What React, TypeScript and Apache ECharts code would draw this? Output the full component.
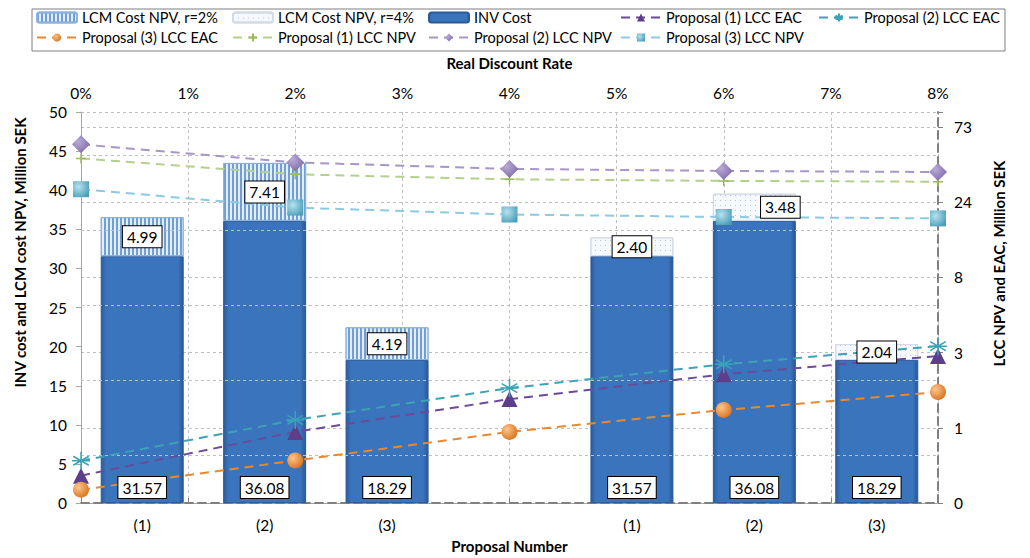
import React, { useEffect, useRef } from "react";
import * as echarts from "echarts";

// ---------- data ----------
const categories = ["(1)", "(2)", "(3)", "", "(1)", "(2)", "(3)"];
const invCost = [31.57, 36.08, 18.29, null, 31.57, 36.08, 18.29];
const lcmCost2 = [4.99, 7.41, 4.19, null, null, null, null];
const lcmCost4 = [null, null, null, null, 2.4, 3.48, 2.04];

const rates = [0, 2, 4, 6, 8];
const p1Eac = [0.448, 0.849, 1.37, 1.97, 2.57];
const p2Eac = [0.557, 1.011, 1.61, 2.28, 2.97];
const p3Eac = [0.365, 0.559, 0.849, 1.17, 1.52];
const p1Npv = [46.1, 36.56, 33.97, 33.2, 32.8];
const p2Npv = [56.6, 43.49, 39.56, 38.4, 37.8];
const p3Npv = [29.4, 22.48, 20.33, 19.6, 19.2];

const rightTickLabels = ["0", "1", "3", "8", "24", "73"];
const rightMinorGrid = [0.6, 1.8, 5.4, 16.2, 48.6];

// secondary axis is logarithmic, base 3, starting at 0.3
const LOG_BASE = 3;
const LOG_ORIGIN = 0.3;
const toLog = (v: number) => Math.log(v / LOG_ORIGIN) / Math.log(LOG_BASE);

const FONT = "Lato";
const TICK_FS = 15.5;
const NAME_FS = 15;
const BAR_W = 83;

const lineSeries = (
  name: string,
  values: number[],
  lineColor: string,
  symbol: string,
  symbolSize: number,
  itemStyle: any
) => ({
  name,
  type: "line",
  xAxisIndex: 1,
  yAxisIndex: 1,
  data: rates.map((r, i) => [r, toLog(values[i])]),
  symbol,
  symbolSize,
  symbolKeepAspect: true,
  lineStyle: { color: lineColor, width: 2, type: [9, 6] },
  itemStyle,
  z: 5,
});

const radial = (c0: string, c1: string) => ({
  type: "radial",
  x: 0.35,
  y: 0.35,
  r: 0.75,
  colorStops: [
    { offset: 0, color: c0 },
    { offset: 1, color: c1 },
  ],
});

export default function App() {
  const ref = useRef<HTMLDivElement>(null);
  useEffect(() => {
    if (!ref.current) return;
    const chart = echarts.init(ref.current, undefined, { renderer: "svg" });
    const labelBox = {
      show: true,
      color: "#000",
      fontFamily: FONT,
      fontSize: 15.5,
      backgroundColor: "#fff",
      borderColor: "#000",
      borderWidth: 1,
      padding: [3, 4, 2, 4],
      formatter: (p: any) => Number(p.value).toFixed(2),
    };
    // transparent twin bars, drawn above the lines, that carry the value boxes
    const labelSeries = (id: string, data: any[], position: string, shifted: number[] = []) => ({
      name: id,
      type: "bar",
      stack: "labels",
      barWidth: BAR_W,
      barGap: "-100%",
      data: data.map((v, i) =>
        shifted.includes(i) ? { value: v, label: { offset: [26, 0] } } : v
      ),
      silent: true,
      itemStyle: { color: "rgba(0,0,0,0)" },
      label: { ...labelBox, position, distance: 5 },
      z: 10,
    });
    const legendBase = {
      orient: "vertical",
      top: 10,
      itemGap: 5,
      itemWidth: 40,
      itemHeight: 10,
      padding: 0,
      textStyle: { fontFamily: FONT, fontSize: 14.5, color: "#000" },
    };
    const option: any = {
      animation: false,
      textStyle: { fontFamily: FONT },
      graphic: [
        {
          type: "rect",
          shape: { x: 32, y: 9, width: 973, height: 42 },
          style: { fill: "none", stroke: "#7f7f7f", lineWidth: 1 },
          silent: true,
        },
      ],
      legend: [
        { ...legendBase, left: 36, data: ["LCM Cost NPV, r=2%", "Proposal (3) LCC EAC"] },
        { ...legendBase, left: 232, data: ["LCM Cost NPV, r=4%", "Proposal (1) LCC NPV"] },
        { ...legendBase, left: 428, data: ["INV Cost", "Proposal (2) LCC NPV"] },
        { ...legendBase, left: 620, data: ["Proposal (1) LCC EAC", "Proposal (3) LCC NPV"] },
        { ...legendBase, left: 818, data: ["Proposal (2) LCC EAC"] },
      ],
      grid: { left: 81, right: 92, top: 112, bottom: 54 },
      xAxis: [
        {
          type: "category",
          data: categories,
          position: "bottom",
          name: "Proposal Number",
          nameLocation: "middle",
          nameGap: 22,
          nameTextStyle: { fontFamily: FONT, fontSize: NAME_FS, fontWeight: "bold", color: "#000" },
          axisLine: { lineStyle: { color: "#a6a6a6", width: 1 } },
          axisTick: { show: false },
          axisLabel: { fontFamily: FONT, fontSize: TICK_FS, color: "#000", margin: 14 },
          splitLine: { show: false },
        },
        {
          type: "value",
          position: "top",
          min: 0,
          max: 8,
          interval: 1,
          name: "Real Discount Rate",
          nameLocation: "middle",
          nameGap: 42,
          nameTextStyle: { fontFamily: FONT, fontSize: NAME_FS, fontWeight: "bold", color: "#000" },
          axisLine: { show: true, lineStyle: { color: "#808080", width: 2, type: [8, 5] } },
          axisTick: { show: true, length: 5, lineStyle: { color: "#808080", width: 1 } },
          axisLabel: { fontFamily: FONT, fontSize: TICK_FS, color: "#000", margin: 11, formatter: "{value}%" },
          splitLine: { show: true, lineStyle: { color: "#bfbfbf", width: 1, type: [3, 3] } },
        },
      ],
      yAxis: [
        {
          type: "value",
          position: "left",
          min: 0,
          max: 50,
          interval: 5,
          name: "INV cost and LCM cost NPV, Million SEK",
          nameLocation: "middle",
          nameRotate: 90,
          nameGap: 54,
          nameTextStyle: {
            fontFamily: FONT,
            fontSize: NAME_FS,
            fontWeight: "bold",
            color: "#000",
            padding: [0, 0, 0, 110],
          },
          axisLine: { show: true, lineStyle: { color: "#a6a6a6", width: 1 } },
          axisTick: { show: true, length: 5, lineStyle: { color: "#a6a6a6" } },
          axisLabel: { fontFamily: FONT, fontSize: TICK_FS, color: "#000", margin: 14 },
          splitLine: { show: false },
        },
        {
          type: "value",
          position: "right",
          min: 0,
          max: 5.2,
          interval: 1,
          name: "LCC NPV and EAC, Million SEK",
          nameLocation: "middle",
          nameRotate: 90,
          nameGap: 53,
          nameTextStyle: {
            fontFamily: FONT,
            fontSize: NAME_FS,
            fontWeight: "bold",
            color: "#000",
            padding: [0, 0, 0, 88],
          },
          axisLine: { show: true, lineStyle: { color: "#808080", width: 2, type: [8, 5] } },
          axisTick: { show: true, length: 5, lineStyle: { color: "#808080", width: 1 } },
          axisLabel: {
            fontFamily: FONT,
            fontSize: TICK_FS,
            color: "#000",
            margin: 16,
            formatter: (v: number) => {
              const i = Math.round(v);
              return Math.abs(v - i) < 1e-6 && rightTickLabels[i] !== undefined ? rightTickLabels[i] : "";
            },
          },
          splitLine: { show: true, lineStyle: { color: "#bfbfbf", width: 1, type: [3, 3] } },
        },
      ],
      series: [
        {
          name: "minor-grid",
          type: "line",
          xAxisIndex: 1,
          yAxisIndex: 1,
          data: [],
          z: 0,
          silent: true,
          markLine: {
            silent: true,
            symbol: "none",
            label: { show: false },
            lineStyle: { color: "#bfbfbf", width: 1, type: [3, 3] },
            data: rightMinorGrid.map((v) => ({ yAxis: toLog(v) })),
          },
        },
        {
          name: "INV Cost",
          type: "bar",
          stack: "cost",
          barWidth: BAR_W,
          data: invCost,
          itemStyle: {
            color: {
              type: "linear",
              x: 0,
              y: 0,
              x2: 1,
              y2: 0,
              colorStops: [
                { offset: 0, color: "#2c5c9c" },
                { offset: 0.06, color: "#3a74bc" },
                { offset: 0.94, color: "#3a74bc" },
                { offset: 1, color: "#2a5792" },
              ],
            },
            borderColor: "#2b5a97",
            borderWidth: 1,
          },
          z: 2,
        },
        {
          name: "LCM Cost NPV, r=2%",
          type: "bar",
          stack: "cost",
          barWidth: BAR_W,
          data: lcmCost2,
          itemStyle: {
            color: "#e4edf8",
            borderColor: "#8fb2dd",
            borderWidth: 1,
            decal: {
              symbol: "rect",
              symbolSize: 1,
              color: "#6f9fd8",
              dashArrayX: [2, 2],
              dashArrayY: [6, 0],
              rotation: 0,
            },
          },
          z: 2,
        },
        {
          name: "LCM Cost NPV, r=4%",
          type: "bar",
          stack: "cost",
          barWidth: BAR_W,
          data: lcmCost4,
          itemStyle: {
            color: "#f5f8fc",
            borderColor: "#d3dbe6",
            borderWidth: 1,
            decal: {
              symbol: "rect",
              symbolSize: 1,
              color: "#b6c6da",
              dashArrayX: [1, 4],
              dashArrayY: [1, 4],
              rotation: 0,
            },
          },
          z: 2,
        },
        lineSeries("Proposal (1) LCC EAC", p1Eac, "#6a4a99", "triangle", 16, {
          color: "#5d3e8a",
        }),
        lineSeries(
          "Proposal (2) LCC EAC",
          p2Eac,
          "#3ea2b6",
          "path://M0,-6L0,6M-5.2,-3L5.2,3M-5.2,3L5.2,-3M-6,0L6,0",
          18,
          { color: "#3aa3b8", borderColor: "#3aa3b8", borderWidth: 1.5 }
        ),
        lineSeries("Proposal (3) LCC EAC", p3Eac, "#e8892f", "circle", 16, {
          color: radial("#fbc68c", "#d86e17"),
        }),
        lineSeries(
          "Proposal (1) LCC NPV",
          p1Npv,
          "#b5cf8c",
          "path://M-5,0L5,0M0,-5L0,5",
          10,
          { color: "#9bbb59", borderColor: "#9bbb59", borderWidth: 1.5 }
        ),
        lineSeries("Proposal (2) LCC NPV", p2Npv, "#a796c6", "diamond", 18, {
          color: radial("#b9aad6", "#7c68a6"),
        }),
        lineSeries("Proposal (3) LCC NPV", p3Npv, "#8ccbdf", "rect", 16, {
          color: radial("#b5e2ef", "#4b9db8"),
        }),
        labelSeries("label-inv", invCost, "insideBottom"),
        labelSeries("label-lcm2", lcmCost2, "inside"),
        labelSeries("label-lcm4", lcmCost4, "inside", [5]),
      ],
    };
    chart.setOption(option);
    return () => chart.dispose();
  }, []);
  return (
    <div
      ref={ref}
      style={{ position: "absolute", left: 0, top: 0, width: 1030, height: 558, background: "#fff" }}
    />
  );
}
